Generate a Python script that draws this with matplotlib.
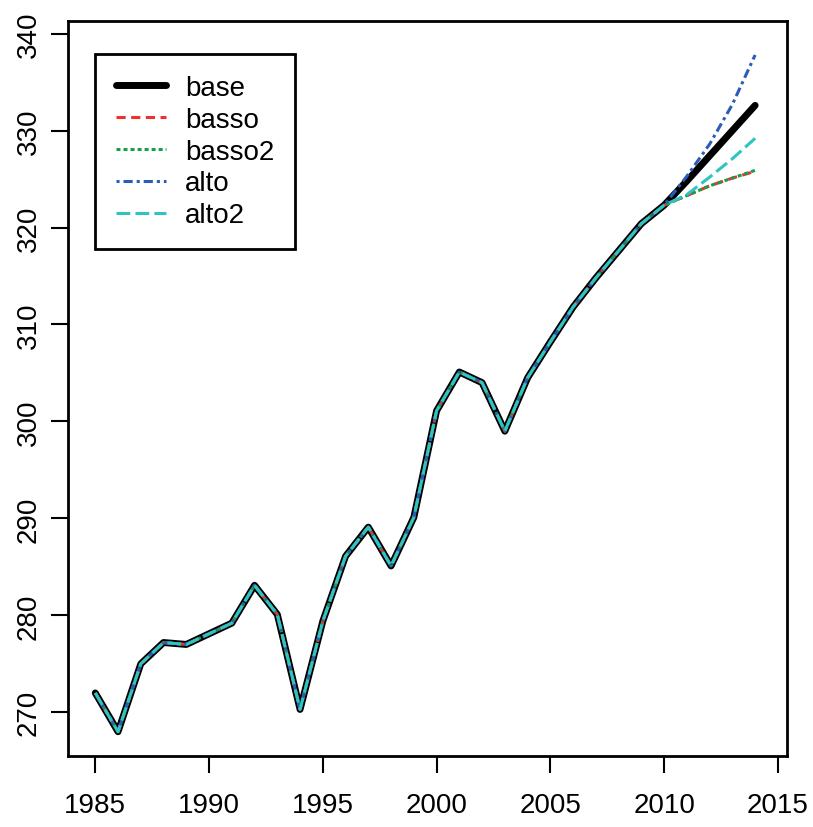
import matplotlib
matplotlib.use("Agg")
import matplotlib.pyplot as plt
import numpy as np

plt.rcParams['font.family'] = ['Liberation Sans', 'DejaVu Sans']

# historical series (shared by all scenarios)
anni = list(range(1985, 2011))
storico = [272, 268, 275, 277.2, 277, 278.1, 279.2, 283.1, 280.1, 270.3,
           279.4, 286.1, 289.1, 285.1, 290.1, 301.1, 305.1, 304.0, 299.0, 304.5,
           308.2, 311.8, 314.8, 317.6, 320.4, 322.3]

# projections 2011-2014
anni_prev = [2011, 2012, 2013, 2014]
base = [324.8, 327.4, 330.0, 332.6]
basso = [323.3, 324.3, 325.1, 325.8]
basso2 = [323.3, 324.3, 325.1, 325.9]
alto = [325.3, 328.6, 332.7, 337.8]
alto2 = [323.4, 325.2, 327.1, 329.2]

x_ticks = [1985, 1990, 1995, 2000, 2005, 2010, 2015]
y_ticks = [270, 280, 290, 300, 310, 320, 330, 340]

fig = plt.figure(figsize=(8.13, 8.28), dpi=100)
ax = fig.add_axes([0.0836, 0.0858, 0.8844, 0.8876])

serie = [
    ("base", base, "black", 5.0, "-"),
    ("basso", basso, "#f03030", 2.2, (0, (3, 1.8))),
    ("basso2", basso2, "#12a04a", 2.2, (0, (1.3, 1.0))),
    ("alto", alto, "#2a5cb8", 2.2, (0, (1.0, 1.3, 3.0, 1.3))),
    ("alto2", alto2, "#2ec4c0", 2.2, (0, (4.5, 1.7))),
]

for nome, prev, col, lw, ls in serie:
    xs = anni + anni_prev
    ys = storico + prev
    ax.plot(xs, ys, color=col, lw=lw, linestyle=ls, label=nome,
            solid_capstyle='round', dash_capstyle='butt')

ax.set_xlim(1983.8, 2015.4)
ax.set_ylim(265.5, 341.3)
ax.set_xticks(x_ticks)
ax.set_yticks(y_ticks)
ax.set_xticklabels([str(v) for v in x_ticks], fontsize=20)
ax.set_yticklabels([str(v) for v in y_ticks], fontsize=20, rotation=90, va='center')
ax.tick_params(axis='x', length=12, width=1.5, pad=14)
ax.tick_params(axis='y', length=12, width=1.5, pad=7)
for sp in ax.spines.values():
    sp.set_linewidth(2)

leg = ax.legend(loc='upper left', bbox_to_anchor=(0.0376, 0.955), borderaxespad=0,
                fontsize=20, fancybox=False, edgecolor='black', framealpha=1,
                handlelength=1.8, handletextpad=0.7, labelspacing=0.21,
                borderpad=0.75)
leg.get_frame().set_linewidth(2)

fig.savefig("out.png", dpi=100)
